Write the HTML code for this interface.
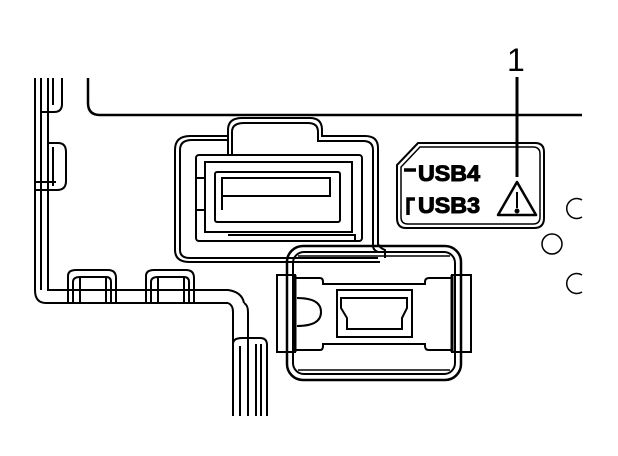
<!DOCTYPE html>
<html><head><style>
html,body{margin:0;padding:0;background:#fff;}
svg{display:block;}
text{font-family:"Liberation Sans",sans-serif;}
</style></head><body>
<svg width="618" height="456" viewBox="0 0 618 456" xmlns="http://www.w3.org/2000/svg" fill="none" stroke="#000" stroke-width="2">
<!-- top panel line -->
<path d="M88 78 V103 Q88 115 100 115 H582" stroke-width="2.5"/>
<!-- left rail -->
<path d="M35 78 V290 Q35 303 46 303 H228"/>
<path d="M48 78 V290 H228 Q242 292 244 303"/>
<path d="M228 303 Q233 305 233 312 V416"/>
<path d="M244 303 Q248 305 248 312 V416"/>
<path d="M41 78 V290"/>
<!-- top-left tabs -->
<path d="M53 78 V105 M62 78 V104 Q62 112 54 112 H40"/>
<path d="M48 143 H58 Q66 143 66 152 V181 Q66 190 57 190 H36 M53 147 V186 M36 182 H56"/>
<!-- bottom tabs -->
<path d="M68 303 V276 Q68 270 76 270 H108 Q116 270 116 278 V303 M73 303 V282 Q73 277 80 277 H106 Q111 277 111 282 V303 M80 278 V303 M106 278 V303"/>
<path d="M146 303 V276 Q146 270 154 270 H186 Q194 270 194 278 V303 M151 303 V282 Q151 277 158 277 H184 Q189 277 189 282 V303 M158 278 V303 M184 278 V303"/>
<path d="M233 416 V344 Q233 338 242 338 H260 Q267 338 267 345 V416 M240 416 V346 M248 340 V416 M256 344 V416 M261 344 V416"/>
<!-- USB-A port -->
<path d="M175 250 V150 Q175 136 190 136 H228 M180 250 V150 Q180 140 192 140 H228"/>
<path d="M175 250 Q175 262 190 262 H380 M180 250 Q180 258 190 258 H378"/>
<path d="M228 155 V130 Q228 118 242 118 H310 Q322 118 322 130 V136 H365 Q378 136 378 148 V240 L378 244 Q380 248 385 250 V258 M232 155 V132 Q232 123 244 123 H308 Q318 123 318 132 V141 H363 Q373 141 373 150 V246 Q373 250 378 252"/>
<rect x="196" y="155" width="166" height="86" rx="3"/>
<rect x="205" y="162" width="147" height="70"/>
<path d="M196 178 H205 M196 210 H205 M228 235 H355 V241"/>
<rect x="215" y="172" width="125" height="50" rx="2"/>
<rect x="222" y="178" width="108" height="18"/>
<path d="M222 178 V210"/>
<!-- mini USB -->
<rect x="287" y="246" width="174" height="134" rx="16" stroke-width="2.5"/>
<rect x="293" y="252" width="162" height="122" rx="11"/>
<path d="M298 256 H450 M298 370 H450" stroke-width="1.5"/>
<rect x="277" y="275" width="18" height="77"/>
<rect x="452" y="275" width="19" height="77"/>
<path d="M295 278 H320 Q323 278 323 282 V284 H425 V282 Q425 278 429 278 H452 M295 350 H320 Q323 350 323 346 V344 H425 V346 Q425 350 429 350 H452" stroke-width="2"/>
<path d="M297 298 Q321 298 321 312 Q321 326 297 326"/>
<rect x="337" y="290" width="75" height="47"/>
<path d="M341 298 H407 V308 L402 318 V329 H347 V318 L341 308 Z"/>
<path d="M295 275 V352" stroke-width="3"/>
<path d="M452 275 V352" stroke-width="3"/>
<!-- label -->
<path d="M418 143 H535 Q544 143 544 152 V218 Q544 228 534 228 H406 Q397 228 397 218 V165 Z" stroke-width="2"/>
<path d="M420 147 H533 Q540 147 540 154 V217 Q540 224 533 224 H408 Q401 224 401 217 V167 Z" stroke-width="1.5"/>
<path d="M404 170 H416" stroke-width="3.5"/>
<text x="418" y="181" font-size="22" font-weight="bold" fill="#000" stroke="#000" stroke-width="1" textLength="62" lengthAdjust="spacingAndGlyphs">USB4</text>
<path d="M408 215 V199 H415" stroke-width="3.5"/>
<text x="418" y="213" font-size="22" font-weight="bold" fill="#000" stroke="#000" stroke-width="1" textLength="62" lengthAdjust="spacingAndGlyphs">USB3</text>
<path d="M517 182 L536 215 H498 Z" stroke-width="2.5" stroke-linejoin="round"/>
<path d="M517 192 V208" stroke-width="2"/>
<circle cx="517" cy="211" r="1.5" fill="#000"/>
<!-- leader -->
<path d="M517 77 V177" stroke-width="3"/>
<text x="507" y="71" font-size="32" fill="#000" stroke="none">1</text>
<!-- circles -->
<path d="M582 200 A10 10 0 1 0 582 217" stroke-width="1.5"/>
<circle cx="552" cy="244" r="10" stroke-width="1.5"/>
<path d="M582 275 A10 10 0 1 0 582 292" stroke-width="1.5"/>
</svg>
</body></html>
